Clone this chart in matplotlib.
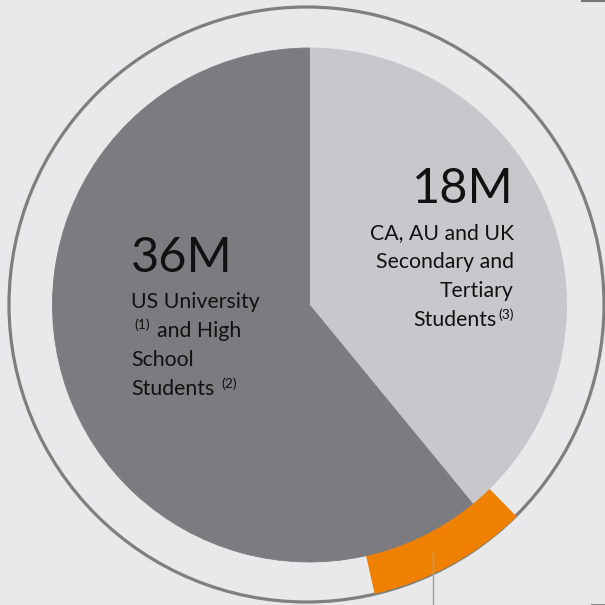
import matplotlib
matplotlib.use("Agg")
import matplotlib.pyplot as plt
from matplotlib.patches import Wedge, Circle

# slice shares (% of the full turn, clockwise from 12 o'clock)
slice_names = ["CA, AU and UK", "US University and High School"]
slice_shares = [39.06, 60.94]
slice_colors = ["#c8c8cc", "#7c7b80"]

# orange ring segment, start and size in % of the turn (clockwise from 12 o'clock)
ring_start = 37.67
ring_share = 8.8

big_labels = ["36M", "18M"]

H = 605
bg = "#e9e9eb"
font = "Lato"

fig = plt.figure(figsize=(6.05, 6.05), dpi=100, facecolor=bg)
ax = fig.add_axes([0, 0, 1, 1])
ax.set_facecolor(bg)

cx, cy, r = 309.5, H - 305, 257

# outer thin circle
ax.add_patch(Circle((306.5, H - 304.5), 297.5, fill=False, ec="#7f7f7f", lw=2.3, zorder=1))

# orange segment sits behind the pie and sticks out to the ring
a1 = ring_start * 3.6
a2 = (ring_start + ring_share) * 3.6
ax.add_patch(Wedge((cx, cy), 296, 90 - a2, 90 - a1, fc="#f08000", ec="none", zorder=2))

wedges, _ = ax.pie(slice_shares, colors=slice_colors, startangle=90, counterclock=False,
                   center=(cx, cy), radius=r, wedgeprops=dict(linewidth=0.6))
for w, c in zip(wedges, slice_colors):
    w.set_edgecolor(c)   # hide the seam so the orange does not show through
    w.set_zorder(3)

# pie() changes the limits, so set them afterwards
ax.set_xlim(0, 605)
ax.set_ylim(0, H)
ax.set_aspect("equal")
ax.axis("off")

# leader line below the orange segment
ax.plot([433, 433], [H - 553, 0], color="#a0a0a0", lw=1.0, zorder=4)

# small frame bits at the right edge
ax.plot([582, 605], [H - 0.5, H - 0.5], color="#777777", lw=1.5, zorder=4, clip_on=False)
ax.plot([592, 605], [0.5, 0.5], color="#888888", lw=1.5, zorder=4, clip_on=False)

tc = "#111111"
kw = dict(family=font, color=tc, zorder=5)
fs = 15.3
sup = 10

# left block
ax.text(131, H - 272, big_labels[0], fontsize=35, ha="left", va="baseline", **kw)
ax.text(131, H - 308, "US University", fontsize=fs, ha="left", va="baseline", **kw)
ax.text(134, H - 329, "(1)", fontsize=sup, ha="left", va="baseline", **kw)
ax.text(157, H - 337, "and High", fontsize=fs, ha="left", va="baseline", **kw)
ax.text(131, H - 366, "School", fontsize=fs, ha="left", va="baseline", **kw)
ax.text(131, H - 395, "Students", fontsize=fs, ha="left", va="baseline", **kw)
ax.text(221, H - 388, "(2)", fontsize=sup, ha="left", va="baseline", **kw)

# right block
ax.text(514, H - 203, big_labels[1], fontsize=35, ha="right", va="baseline", **kw)
ax.text(514, H - 239, "CA, AU and UK", fontsize=fs, ha="right", va="baseline", **kw)
ax.text(514, H - 268, "Secondary and", fontsize=fs, ha="right", va="baseline", **kw)
ax.text(514, H - 297, "Tertiary", fontsize=fs, ha="right", va="baseline", **kw)
ax.text(497, H - 326, "Students", fontsize=fs, ha="right", va="baseline", **kw)
ax.text(514, H - 319, "(3)", fontsize=sup, ha="right", va="baseline", **kw)

fig.savefig("out.png", dpi=100, facecolor=bg)
